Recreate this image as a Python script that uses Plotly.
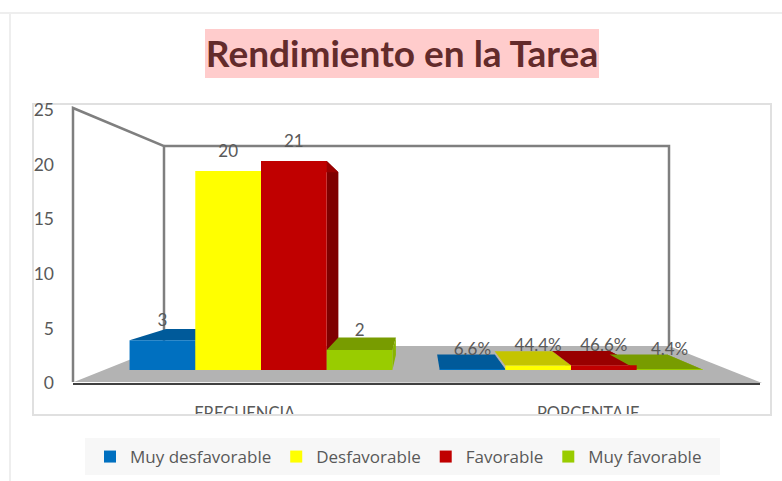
import plotly.graph_objects as go

# Data
groups = ["FRECUENCIA", "PORCENTAJE"]
series_names = ["Muy desfavorable", "Desfavorable", "Favorable", "Muy favorable"]
muy_desfavorable = [3, 0.066]
desfavorable = [20, 0.444]
favorable = [21, 0.466]
muy_favorable = [2, 0.044]
series_values = [muy_desfavorable, desfavorable, favorable, muy_favorable]
series_labels = [["3", "6.6%"], ["20", "44.4%"], ["21", "46.6%"], ["2", "4.4%"]]
y_ticks = [0, 5, 10, 15, 20, 25]

# Face colours (front, top, side)
front = ["#0070C0", "#FFFF00", "#C00000", "#99CC00"]
top = ["#005A9A", "#C4C400", "#990000", "#789C00"]
side = ["#00508A", "#B0B000", "#7F0000", "#88B400"]

W, H = 782, 481
TEXT = "#595959"
FONT = "Lato"

# Fake 3D: the back of a bar is the front scaled towards a vanishing point
DEPTH = 0.875
VX, VY = 0.513, 12.06
BAR_W = 0.212


def back(x, v):
    return VX + DEPTH * (x - VX), VY + DEPTH * (v - VY)


def poly(points, closed=True):
    return "M" + " L".join(f"{x},{y}" for x, y in points) + (" Z" if closed else "")


def px(points, closed=True):
    # pixel position -> paper fractions
    return poly([(x / W, 1 - y / H) for x, y in points], closed)


def paper_shape(points, fill=None, line=None, width=2, layer="below", closed=True):
    return dict(type="path", xref="paper", yref="paper", path=px(points, closed), layer=layer,
                fillcolor=fill or "rgba(0,0,0,0)",
                line=dict(color=line or "rgba(0,0,0,0)", width=width))


shapes = [
    paper_shape([(33, 104), (771, 104), (771, 415), (33, 415)], fill="white", line="#E0E0E0"),
    paper_shape([(85, 438), (720, 438), (720, 475), (85, 475)], fill="#F7F7F7"),
    paper_shape([(74, 382), (164, 346), (669, 346), (762, 383)], fill="#B3B3B3"),
    paper_shape([(73, 382), (73, 108), (164, 146), (164, 346)], line="#7F7F7F", width=2.5, closed=False),
    paper_shape([(164, 146), (669, 146), (669, 346)], line="#7F7F7F", width=2.5, closed=False),
    dict(type="line", xref="paper", yref="paper", x0=0, x1=1, y0=1 - 13 / H, y1=1 - 13 / H,
         layer="below", line=dict(color="#EEEEEE", width=2)),
    dict(type="line", xref="paper", yref="paper", x0=10 / W, x1=10 / W, y0=0, y1=1 - 13 / H,
         layer="below", line=dict(color="#EEEEEE", width=2)),
    # title box
    paper_shape([(205, 29), (599, 29), (599, 78), (205, 78)], fill="#FFCCCC"),
]

fig = go.Figure()

# Invisible trace so the tick axes get drawn
fig.add_trace(go.Scatter(x=[0, 1], y=[0, 0], mode="lines", line=dict(width=0),
                         showlegend=False, hoverinfo="skip"))

for g in range(len(groups)):
    for s in range(len(series_names)):
        v = series_values[s][g]
        x0 = g + (s - 2) * BAR_W
        x1 = x0 + BAR_W
        top_face = [(x0, v), (x1, v), back(x1, v), back(x0, v)]
        side_face = [(x1, 0), (x1, v), back(x1, v), back(x1, 0)]
        for face, color in ((side_face, side[s]), (top_face, top[s])):
            shapes.append(dict(type="path", xref="x2", yref="y2", path=poly(face), layer="below",
                               fillcolor=color, line=dict(width=0)))

for s, name in enumerate(series_names):
    fig.add_trace(go.Bar(
        x=[g + (s - 1.5) * BAR_W for g in range(len(groups))],
        y=series_values[s],
        width=BAR_W,
        name=name,
        marker=dict(color=front[s], line=dict(width=0)),
        xaxis="x2",
        yaxis="y2",
    ))
    # labels float a fixed distance above the front face
    fig.add_trace(go.Scatter(
        x=[g + (s - 1.5) * BAR_W for g in range(len(groups))],
        y=[v + 1.85 for v in series_values[s]],
        text=series_labels[s],
        mode="text",
        textposition="middle center",
        textfont=dict(family=FONT, size=17, color=TEXT),
        showlegend=False,
        hoverinfo="skip",
        xaxis="x2",
        yaxis="y2",
    ))

# The x axis labels are cut by the chart border in the original
shapes.append(paper_shape([(34, 416), (770, 416), (770, 430), (34, 430)], fill="white", layer="above"))
shapes.append(paper_shape([(33, 415), (771, 415)], line="#E0E0E0", layer="above", closed=False))

fig.update_layout(
    width=W,
    height=H,
    margin=dict(l=0, r=0, t=0, b=0, autoexpand=False),
    paper_bgcolor="white",
    plot_bgcolor="rgba(0,0,0,0)",
    barmode="overlay",
    shapes=shapes,
    title=dict(text="<b>Rendimiento en la Tarea</b>", x=402 / W, xanchor="center", y=1 - 54 / H, yanchor="middle",
               font=dict(family=FONT, size=37, color="#632B2B")),
    font=dict(family=FONT, color=TEXT),
    showlegend=True,
    legend=dict(orientation="h", x=90 / W, xanchor="left", y=1 - 457 / H, yanchor="middle",
                bgcolor="rgba(0,0,0,0)", font=dict(family="Open Sans", size=17, color=TEXT),
                traceorder="normal"),
    xaxis=dict(domain=[73 / W, 760 / W], range=[-0.5, 1.5], tickvals=[0, 1], ticktext=groups,
               showgrid=False, zeroline=False, showline=True, linecolor="#404040", linewidth=2,
               ticks="outside", ticklen=14, tickcolor="rgba(0,0,0,0)",
               tickfont=dict(family=FONT, size=16.5, color=TEXT), fixedrange=True),
    yaxis=dict(domain=[1 - 383 / H, 1 - 110 / H], range=[0, 25], tickvals=y_ticks,
               anchor="free", position=54 / W, showgrid=False, zeroline=False, showline=False,
               tickfont=dict(family=FONT, size=17.5, color=TEXT), fixedrange=True),
    # overlaid axes share the domain of the base axes, ranges set to fit
    xaxis2=dict(overlaying="x", range=[(73 - 261) / 310, (760 - 261) / 310], visible=False, fixedrange=True),
    yaxis2=dict(overlaying="y", range=[(370 - 383) / 9.95, (370 - 110) / 9.95], visible=False, fixedrange=True),
)

fig.write_html("out.html", config=dict(displayModeBar=False),
               post_script="document.body.style.margin='0'")
